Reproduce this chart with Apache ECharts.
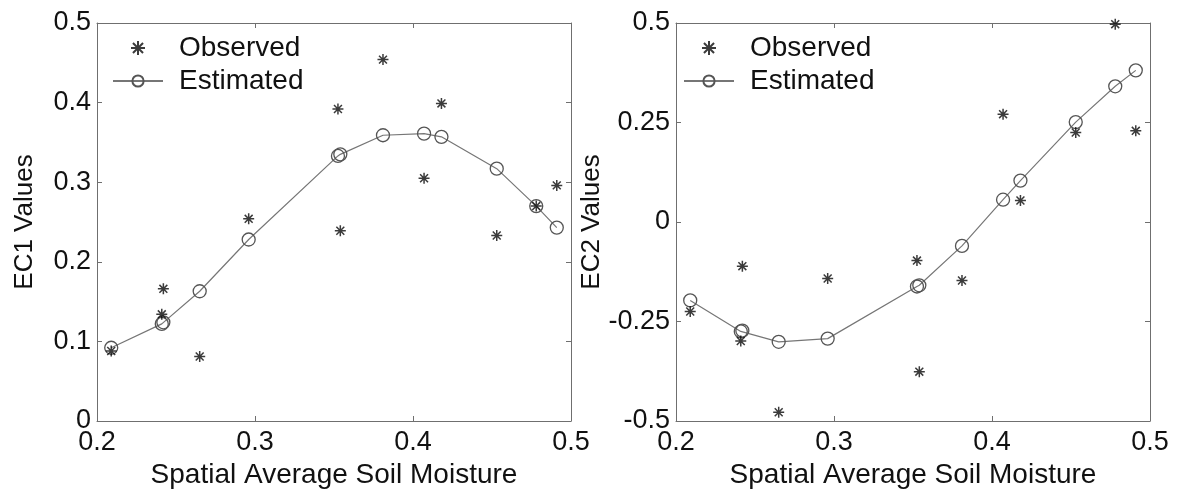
<!DOCTYPE html>
<html>
<head>
<meta charset="utf-8">
<style>
  html, body { margin: 0; padding: 0; background: #fff; }
  #chart { width: 1185px; height: 495px; }
</style>
<script src="https://cdn.jsdelivr.net/npm/echarts@6/dist/echarts.min.js"></script>
</head>
<body>
<div id="chart"></div>
<script>
// Spatial average soil moisture of each sampling day
const soilMoisture = [0.209, 0.241, 0.242, 0.265, 0.296, 0.3525, 0.354, 0.381, 0.407, 0.418, 0.453, 0.478, 0.491];

// EC1 values: observed and estimated
const ec1Observed  = [0.088, 0.134, 0.166, 0.081, 0.254, 0.392, 0.239, 0.454, 0.305, 0.399, 0.233, 0.270, 0.296];
const ec1Estimated = [0.092, 0.122, 0.124, 0.163, 0.228, 0.333, 0.335, 0.359, 0.361, 0.357, 0.317, 0.270, 0.243];

// EC2 values: observed and estimated
const ec2Observed  = [-0.225, -0.299, -0.111, -0.478, -0.142, -0.097, -0.376, -0.147, 0.271, 0.054, 0.225, 0.497, 0.229];
const ec2Estimated = [-0.197, -0.275, -0.273, -0.301, -0.293, -0.162, -0.159, -0.060, 0.056, 0.104, 0.251, 0.341, 0.381];

const seriesNames = ['Observed', 'Estimated'];
const xTitle = 'Spatial Average Soil Moisture';
const yTitles = ['EC1 Values', 'EC2 Values'];

const FONT = '"Liberation Sans", Arial, Helvetica, sans-serif';
const FRAME = '#6f6f6f';
const STAR = 'path://M0,-5L0,5M-5,0L5,0M-3.6,-3.6L3.6,3.6M-3.6,3.6L3.6,-3.6';

const pairs = (ys) => soilMoisture.map((x, i) => [x, ys[i]]);

function frameAxis(extra) {
  return Object.assign({
    type: 'value',
    axisLine: { show: true, onZero: false, lineStyle: { color: FRAME, width: 1 } },
    axisTick: { show: true, inside: true, length: 5, lineStyle: { color: FRAME } },
    splitLine: { show: false },
    axisLabel: { show: false }
  }, extra);
}

function xAxes(gridIndex) {
  const common = { gridIndex, min: 0.2, max: 0.5, interval: 0.1 };
  return [
    frameAxis(Object.assign({}, common, {
      position: 'bottom',
      axisLabel: { show: true, color: '#111', fontSize: 27, fontFamily: FONT, margin: 8 },
      name: xTitle, nameLocation: 'middle', nameGap: 37,
      nameTextStyle: { color: '#111', fontSize: 28, fontFamily: FONT }
    })),
    frameAxis(Object.assign({}, common, { position: 'top' }))
  ];
}

function yAxes(gridIndex, min, max, interval, title, gap) {
  const common = { gridIndex, min, max, interval };
  return [
    frameAxis(Object.assign({}, common, {
      position: 'left',
      axisLabel: { show: true, color: '#111', fontSize: 27, fontFamily: FONT, margin: 6 },
      name: title, nameLocation: 'middle', nameGap: gap, nameRotate: 90,
      nameTextStyle: { color: '#111', fontSize: 26, fontFamily: FONT }
    })),
    frameAxis(Object.assign({}, common, { position: 'right' }))
  ];
}

function panelSeries(axisIndex, observed, estimated) {
  return [
    {
      name: 'Estimated', type: 'line',
      xAxisIndex: axisIndex, yAxisIndex: axisIndex,
      data: pairs(estimated),
      symbol: 'circle', symbolSize: 13, showSymbol: true,
      lineStyle: { color: '#767676', width: 1.2 },
      itemStyle: { color: 'rgba(255,255,255,0)', borderColor: '#555', borderWidth: 1.3 },
      z: 2
    },
    {
      name: 'Observed', type: 'scatter',
      xAxisIndex: axisIndex, yAxisIndex: axisIndex,
      data: pairs(observed),
      symbol: STAR, symbolSize: 11,
      itemStyle: { color: 'rgba(0,0,0,0)', borderColor: '#0a0a0a', borderWidth: 1.5 },
      z: 3
    }
  ];
}

function legendAt(left) {
  return {
    data: seriesNames,
    orient: 'vertical',
    left, top: 29,
    itemWidth: 50, itemHeight: 14, itemGap: 5, itemTextGap: 5,
    selectedMode: false,
    textStyle: { color: '#111', fontSize: 28, fontFamily: FONT, lineHeight: 28, padding: [0, 0, 0, 11] }
  };
}

const chart = echarts.init(document.getElementById('chart'), null, { renderer: 'canvas' });
chart.setOption({
  animation: false,
  backgroundColor: '#ffffff',
  grid: [
    { left: 97, width: 474, top: 23, height: 398 },
    { left: 676, width: 474, top: 23, height: 398 }
  ],
  legend: [legendAt(107), legendAt(678)],
  xAxis: [].concat(xAxes(0), xAxes(1)),
  yAxis: [].concat(
    yAxes(0, 0, 0.5, 0.1, yTitles[0], 59),
    yAxes(1, -0.5, 0.5, 0.25, yTitles[1], 64)
  ),
  series: [].concat(
    panelSeries(0, ec1Observed, ec1Estimated),
    panelSeries(2, ec2Observed, ec2Estimated)
  )
});
</script>
</body>
</html>
